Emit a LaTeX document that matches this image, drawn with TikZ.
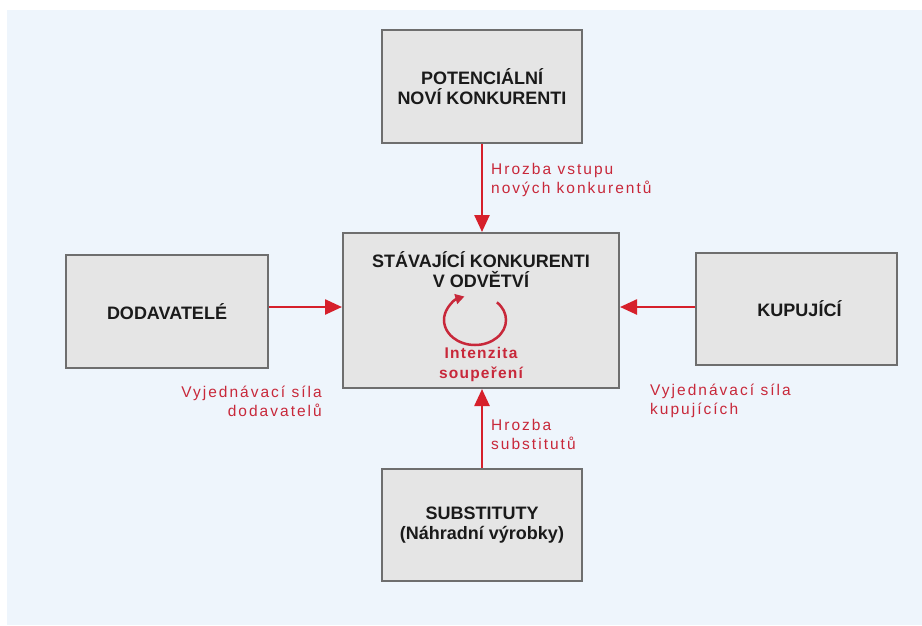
\documentclass[tikz,border=0pt]{standalone}
\usepackage{fontspec}
\setmainfont{Liberation Sans}
\newfontfamily\redfont[LetterSpace=13]{Liberation Sans}
\newfontfamily\redbfont[LetterSpace=8]{Liberation Sans}
\usetikzlibrary{arrows.meta}
\definecolor{bgc}{HTML}{EEF5FC}
\definecolor{boxfill}{HTML}{E5E5E5}
\definecolor{boxdraw}{HTML}{6E6E6E}
\definecolor{arrred}{HTML}{D6202B}
\definecolor{txtred}{HTML}{C8283A}
\definecolor{txtblk}{HTML}{1A1A1A}
\tikzset{
  forcebox/.style={draw=boxdraw, line width=2pt, fill=boxfill, inner sep=0pt,
    align=center, text=txtblk, font=\fontsize{18}{20}\selectfont\bfseries},
  titletext/.style={inner sep=0pt, align=center, text=txtblk, font=\fontsize{18}{20}\selectfont\bfseries},
  forcearrow/.style={draw=arrred, line width=2.5pt, -{Triangle[length=17pt, width=15pt]}},
  redlabel/.style={inner sep=0pt, text=txtred, font=\redfont\fontsize{15.5}{19}\selectfont},
  redbold/.style={inner sep=0pt, align=center, text=txtred, font=\redbfont\fontsize{15.5}{20}\selectfont\bfseries},
  cyclearrow/.style={draw=txtred, line width=2.5pt, -{Triangle[length=9pt, width=10pt]}}
}
\begin{document}
\begin{tikzpicture}[x=1pt, y=-1pt]
\useasboundingbox (0,0) rectangle (922,625);
\fill[white] (0,0) rectangle (922,625);
\fill[bgc] (7,10) rectangle (922,625);
% boxes
\node[forcebox, minimum width=200pt, minimum height=113pt] (top) at (482,86.5) {POTENCIÁLNÍ\\NOVÍ KONKURENTI};
\node[forcebox, minimum width=276pt, minimum height=155pt] (center) at (481,310.5) {};
\node[forcebox, minimum width=202pt, minimum height=113pt] (left) at (167,311.5) {DODAVATELÉ};
\node[forcebox, minimum width=201pt, minimum height=112pt] (right) at (796.5,309) {\hspace{6pt}KUPUJÍCÍ};
\node[forcebox, minimum width=200pt, minimum height=112pt] (bottom) at (482,525) {SUBSTITUTY\\(Náhradní výrobky)};
% center contents
\node[titletext] (ctitle) at (481,269.5) {STÁVAJÍCÍ KONKURENTI\\V ODVĚTVÍ};
\coordinate (rc) at (475,320);
\draw[cyclearrow] ([shift={(45:31pt and 25pt)}]rc) arc[start angle=45, end angle=-250, x radius=31pt, y radius=25pt];
\node[redbold] (rivalry) at (481,364) {Intenzita\\soupeření};
% arrows
\draw[forcearrow] (top.south) -- (top.south |- center.north);
\draw[forcearrow] (bottom.north) -- (bottom.north |- center.south);
\draw[forcearrow] ([yshift=4.5pt]left.east) -- ([yshift=4.5pt]left.east -| center.west);
\draw[forcearrow] ([yshift=2pt]right.west) -- ([yshift=2pt]right.west -| center.east);
% labels
\node[redlabel, align=left, anchor=west] (lnew) at (491,179.5) {Hrozba vstupu\\nových konkurentů};
\node[redlabel, align=right, anchor=east] (lsup) at (322,401) {Vyjednávací síla\\dodavatelů};
\node[redlabel, align=left, anchor=west] (lbuy) at (650,401) {Vyjednávací síla\\kupujících};
\node[redlabel, align=left, anchor=west] (lsub) at (491,434) {Hrozba\\substitutů};
\end{tikzpicture}
\end{document}
